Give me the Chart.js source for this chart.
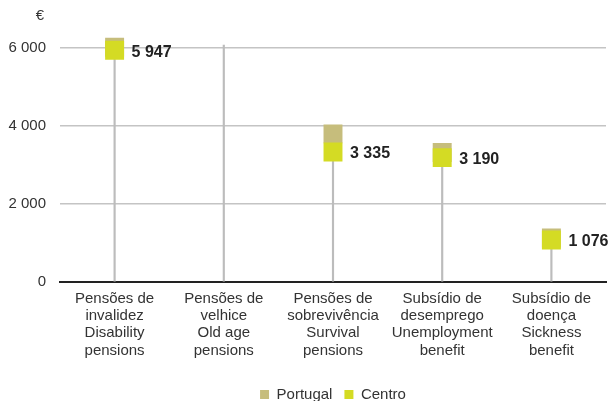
<!DOCTYPE html>
<html>
<head>
<meta charset="utf-8">
<script src="https://cdn.jsdelivr.net/npm/chart.js@4.4.1/dist/chart.umd.min.js"></script>
<style>
    html, body { margin: 0; padding: 0; background: #fff; }
    #wrap { width: 610px; height: 401px; }
</style>
</head>
<body>
<div id="wrap"><canvas id="benefitsChart" width="610" height="401"></canvas></div>
<script>
const categories = [
    ['Pensões de', 'invalidez', 'Disability', 'pensions'],
    ['Pensões de', 'velhice', 'Old age', 'pensions'],
    ['Pensões de', 'sobrevivência', 'Survival', 'pensions'],
    ['Subsídio de', 'desemprego', 'Unemployment', 'benefit'],
    ['Subsídio de', 'doença', 'Sickness', 'benefit']
];
const portugalValues = [6020, null, 3800, 3320, 1130];
const centroValues = [5947, null, 3335, 3190, 1076];
// high line drawn from 0 to the top value of each category
const highValues = [6020, 6080, 3800, 3320, 1130];
const yTicks = [0, 2000, 4000, 6000];

const FONT = "'Liberation Sans', Arial, sans-serif";

function fmt(v) {
    return String(v).replace(/\B(?=(\d{3})+(?!\d))/g, ' ');
}

// value labels next to the Centro squares, plus the € unit
const labelPlugin = {
    id: 'valueLabels',
    afterLayout(chart) {
        // push the legend a bit lower, like the original
        if (chart.legend) {
            chart.legend.top += 11;
            chart.legend.bottom += 11;
        }
    },
    afterDatasetsDraw(chart) {
        const ctx = chart.ctx;
        const meta = chart.getDatasetMeta(2);
        ctx.save();
        ctx.font = 'bold 16px ' + FONT;
        ctx.fillStyle = '#222';
        ctx.textAlign = 'left';
        ctx.textBaseline = 'middle';
        meta.data.forEach((pt, i) => {
            const v = centroValues[i];
            if (v == null) return;
            ctx.fillText(fmt(v), pt.x + 17, pt.y + 2);
        });
        ctx.font = '15px ' + FONT;
        ctx.fillStyle = '#333';
        ctx.textAlign = 'center';
        ctx.fillText('€', 40, 16);
        ctx.restore();
    }
};

const ctx = document.getElementById('benefitsChart').getContext('2d');
new Chart(ctx, {
    type: 'bar',
    data: {
        labels: categories,
        datasets: [
            {
                type: 'bar',
                label: 'high',
                data: highValues,
                backgroundColor: '#bcbcbc',
                barThickness: 1.5,
                order: 2
            },
            {
                type: 'line',
                label: 'Portugal',
                data: portugalValues,
                showLine: false,
                pointStyle: 'rect',
                pointRadius: 13.4,
                pointHoverRadius: 13.4,
                pointBorderWidth: 0,
                backgroundColor: '#c6bd7c',
                borderColor: '#c6bd7c',
                order: 1
            },
            {
                type: 'line',
                label: 'Centro',
                data: centroValues,
                showLine: false,
                pointStyle: 'rect',
                pointRadius: 13.4,
                pointHoverRadius: 13.4,
                pointBorderWidth: 0,
                backgroundColor: '#d4db24',
                borderColor: '#d4db24',
                order: 0
            }
        ]
    },
    options: {
        responsive: false,
        animation: false,
        layout: { autoPadding: false, padding: { top: 36.4, right: 4, left: 0, bottom: 0 } },
        scales: {
            x: {
                offset: true,
                grid: { display: false, drawTicks: false },
                border: { display: true, color: '#222', width: 2 },
                ticks: {
                    color: '#333',
                    font: { family: FONT, size: 15, lineHeight: 1.15 },
                    padding: 8,
                    maxRotation: 0,
                    autoSkip: false
                },
                afterFit(scale) {
                    scale.height = 82;
                    scale.paddingLeft = 0;
                    scale.paddingRight = 0;
                }
            },
            y: {
                min: 0,
                max: 6300,
                afterBuildTicks(scale) { scale.ticks = yTicks.map(v => ({ value: v })); },
                grid: {
                    drawTicks: false,
                    color: (c) => c.tick && c.tick.value === 0 ? 'rgba(0,0,0,0)' : '#c4c4c4',
                    lineWidth: 1.5
                },
                border: { display: false },
                ticks: {
                    color: '#333',
                    font: { family: FONT, size: 15 },
                    padding: 14,
                    callback: (v) => fmt(v)
                },
                afterFit(scale) { scale.width = 60; }
            }
        },
        plugins: {
            legend: {
                position: 'bottom',
                fullSize: false,
                labels: {
                    color: '#333',
                    font: { family: FONT, size: 15 },
                    boxWidth: 9,
                    boxHeight: 9,
                    padding: 12,
                    filter: (item) => item.text !== 'high',
                    sort: (a, b) => a.datasetIndex - b.datasetIndex,
                    generateLabels(chart) {
                        const items = Chart.defaults.plugins.legend.labels.generateLabels(chart);
                        items.forEach(it => { it.lineWidth = 0; });
                        return items;
                    }
                }
            },
            tooltip: { enabled: false }
        }
    },
    plugins: [labelPlugin]
});
</script>
</body>
</html>
